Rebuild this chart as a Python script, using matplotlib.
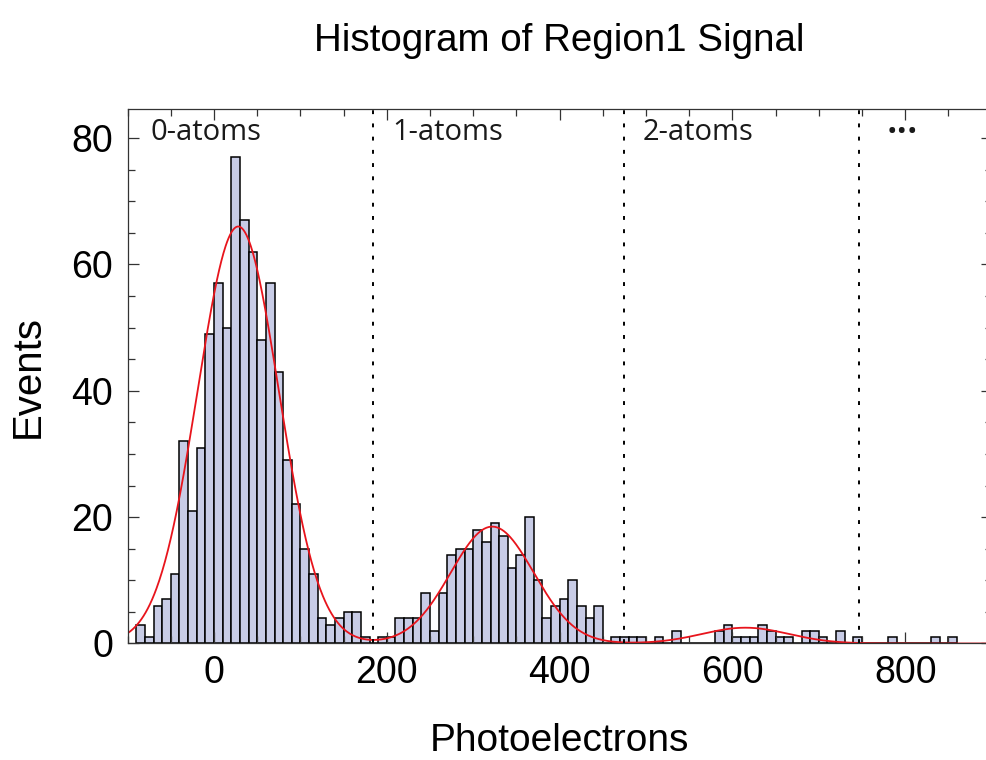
import numpy as np
import matplotlib
matplotlib.use("Agg")
import matplotlib.pyplot as plt
from matplotlib.ticker import MultipleLocator

# histogram of region 1: left bin edge -90, 10 photoelectrons per bin
bin_start = -90
bin_width = 10
counts = [3, 1, 6, 7, 11, 32, 21, 31, 49, 57,
          50, 77, 67, 62, 48, 57, 43, 29, 22, 15,
          11, 4, 3, 4, 5, 5, 1, 0, 1, 1,
          4, 4, 4, 8, 2, 8, 14, 15, 15, 18,
          16, 19, 17, 12, 14, 20, 10, 4, 6, 7,
          10, 6, 4, 6, 0, 1, 1, 1, 1, 0,
          1, 0, 2, 0, 0, 0, 0, 2, 3, 1,
          1, 1, 3, 2, 1, 1, 0, 2, 2, 1,
          0, 2, 0, 1, 0, 0, 0, 1, 0, 0,
          0, 0, 1, 0, 1]

# gaussian fit for 0, 1, 2 atoms
fit_amp = [66.0, 18.5, 2.5]
fit_mu = [28.0, 322.0, 615.0]
fit_sigma = [47.0, 48.0, 50.0]

# atom number thresholds and labels
thresholds = [184, 474, 746]
region_labels = ["0-atoms", "1-atoms", "2-atoms"]
label_x = [-74, 206, 496]

edges = bin_start + bin_width * np.arange(len(counts))
xfit = np.linspace(-100, 900, 1200)
yfit = sum(a * np.exp(-(xfit - m) ** 2 / (2 * s ** 2))
           for a, m, s in zip(fit_amp, fit_mu, fit_sigma))

plt.rcParams["font.family"] = ["Liberation Sans", "DejaVu Sans"]

fig = plt.figure(figsize=(9.87, 7.6), dpi=100)
ax = fig.add_axes([0.1293, 0.1533, 0.8754, 0.7033])

ax.bar(edges, counts, width=bin_width, align="edge",
       color="#c8cce6", edgecolor="black", linewidth=1.1)
ax.plot(xfit, yfit, color="#e8141c", lw=1.3)

for t in thresholds:
    ax.axvline(t, color="black", lw=1.4, linestyle=(0, (2.0, 4.8)))

for lab, lx in zip(region_labels, label_x):
    ax.text(lx, 80.8, lab, family="Open Sans", fontsize=21,
            ha="left", va="center", color="#1a1a1a")
ax.text(797, 80.8, "\u2022\u2022\u2022", family="Open Sans", fontsize=20,
        ha="center", va="center", color="#1a1a1a")

ax.set_xlim(-100, 900)
ax.set_ylim(0, 84.6)
ax.xaxis.set_major_locator(MultipleLocator(200))
ax.xaxis.set_minor_locator(MultipleLocator(50))
ax.yaxis.set_major_locator(MultipleLocator(20))
ax.yaxis.set_minor_locator(MultipleLocator(5))
ax.tick_params(which="both", direction="in", top=True, right=True,
               color="#333333", width=0.9)
ax.tick_params(which="major", length=8, labelsize=27)
ax.tick_params(which="minor", length=5)
ax.tick_params(axis="x", pad=8)
ax.tick_params(axis="y", pad=10.5)
for sp in ax.spines.values():
    sp.set_color("#333333")
    sp.set_linewidth(0.9)

ax.set_title("Histogram of Region1 Signal", fontsize=27.7, pad=42)
ax.set_xlabel("Photoelectrons", fontsize=28, labelpad=23)
ax.set_ylabel("Events", fontsize=29, labelpad=18)

fig.savefig("out.png", dpi=100)
